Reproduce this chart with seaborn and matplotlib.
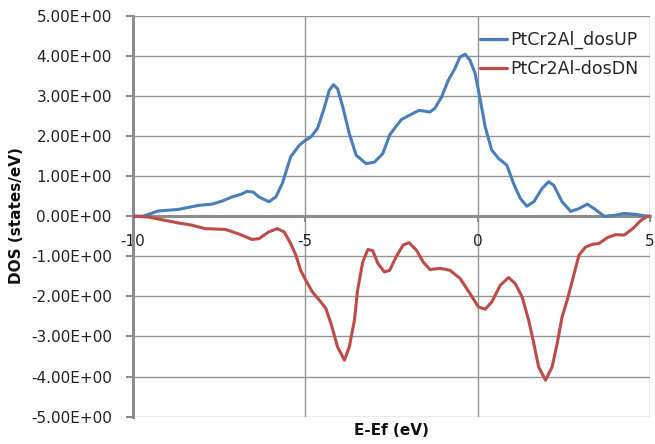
import matplotlib
matplotlib.use("Agg")
import matplotlib.pyplot as plt
from matplotlib.ticker import FuncFormatter, MultipleLocator
import numpy as np
import pandas as pd
import seaborn as sns

# Energy relative to the Fermi level (eV) and spin-resolved DOS (states/eV)
energy_up = [-10.0, -9.7, -9.26, -8.67, -8.09, -7.7, -7.4, -7.12, -6.85, -6.68, -6.5,
             -6.34, -6.05, -5.85, -5.66, -5.42, -5.17, -5.03, -4.83, -4.64, -4.45,
             -4.30, -4.18, -4.06, -3.91, -3.72, -3.52, -3.23, -2.99, -2.75, -2.55,
             -2.40, -2.21, -1.97, -1.70, -1.38, -1.24, -1.04, -0.85, -0.66, -0.51,
             -0.36, -0.22, -0.07, 0.07, 0.22, 0.41, 0.61, 0.85, 1.04, 1.24, 1.43,
             1.63, 1.87, 2.06, 2.21, 2.45, 2.70, 2.94, 3.18, 3.38, 3.67, 3.96,
             4.25, 4.54, 4.93, 5.0]
dos_up = [0.0, 0.0, 0.13, 0.17, 0.27, 0.30, 0.38, 0.48, 0.55, 0.62, 0.60,
          0.48, 0.36, 0.48, 0.82, 1.48, 1.77, 1.87, 1.98, 2.19, 2.69,
          3.14, 3.28, 3.18, 2.73, 2.06, 1.52, 1.31, 1.35, 1.56, 2.02,
          2.20, 2.41, 2.52, 2.64, 2.60, 2.69, 2.98, 3.39, 3.68, 3.97,
          4.04, 3.89, 3.56, 2.94, 2.23, 1.65, 1.44, 1.27, 0.82, 0.44, 0.25,
          0.36, 0.69, 0.86, 0.77, 0.36, 0.12, 0.19, 0.30, 0.19, 0.0, 0.02,
          0.07, 0.05, 0.0, 0.0]

energy_dn = [-10.0, -9.55, -9.2, -8.67, -8.3, -7.9, -7.31, -6.9, -6.54, -6.34,
             -6.05, -5.81, -5.61, -5.42, -5.27, -5.13, -4.98, -4.79, -4.59, -4.40,
             -4.25, -4.06, -3.86, -3.72, -3.57, -3.48, -3.33, -3.18, -3.04, -2.89,
             -2.70, -2.55, -2.36, -2.16, -1.99, -1.77, -1.58, -1.38, -1.09, -0.80,
             -0.51, -0.22, 0.02, 0.22, 0.41, 0.66, 0.90, 1.09, 1.29, 1.48, 1.63,
             1.77, 1.97, 2.16, 2.31, 2.45, 2.60, 2.75, 2.94, 3.13, 3.33, 3.52,
             3.77, 4.01, 4.25, 4.50, 4.74, 4.93, 5.0]
dos_dn = [0.0, -0.02, -0.08, -0.17, -0.22, -0.31, -0.33, -0.45, -0.58, -0.56,
          -0.39, -0.31, -0.39, -0.68, -0.97, -1.35, -1.60, -1.89, -2.09, -2.30,
          -2.68, -3.26, -3.59, -3.26, -2.59, -1.85, -1.14, -0.83, -0.86, -1.18,
          -1.39, -1.35, -1.01, -0.72, -0.66, -0.85, -1.14, -1.33, -1.30, -1.35,
          -1.55, -1.93, -2.26, -2.32, -2.14, -1.72, -1.53, -1.68, -2.01, -2.59, -3.17,
          -3.76, -4.09, -3.76, -3.17, -2.51, -2.09, -1.60, -0.97, -0.77, -0.70, -0.68,
          -0.53, -0.46, -0.47, -0.31, -0.10, 0.0, 0.0]

series_names = ["PtCr2Al_dosUP", "PtCr2Al-dosDN"]
series_colors = ["#4A7EBB", "#BE4B48"]
x_ticks = [-10, -5, 0, 5]

df = pd.concat([
    pd.DataFrame({"E": energy_up, "DOS": dos_up, "series": series_names[0]}),
    pd.DataFrame({"E": energy_dn, "DOS": dos_dn, "series": series_names[1]}),
], ignore_index=True)

sns.set_style("white")
plt.rcParams["font.family"] = ["DejaVu Sans"]

fig = plt.figure(figsize=(6.55, 4.44), dpi=100)
ax = fig.add_axes([0.2026, 0.0615, 0.9924 - 0.2026, 0.9646 - 0.0615])

sns.lineplot(data=df, x="E", y="DOS", hue="series", palette=series_colors,
             hue_order=series_names, sort=False, linewidth=2.2, ax=ax,
             legend=False, zorder=3)
for ln in ax.lines:
    ln.set_solid_joinstyle("round")
    ln.set_solid_capstyle("round")

ax.set_xlim(-10, 5)
ax.set_ylim(-5, 5)
ax.set_xticks(x_ticks)
ax.yaxis.set_major_locator(MultipleLocator(1))
ax.yaxis.set_major_formatter(FuncFormatter(lambda v, p: f"{v:.2E}"))
ax.xaxis.set_major_formatter(FuncFormatter(lambda v, p: f"{v:g}"))

grid_c = "#8C8C8C"
ax.grid(True, color="#949494", linewidth=1.0)
ax.set_axisbelow(True)

for s in ["top", "right"]:
    ax.spines[s].set_visible(False)
ax.spines["left"].set_color(grid_c)
ax.spines["left"].set_linewidth(2.2)
ax.spines["bottom"].set_position(("data", 0))
ax.spines["bottom"].set_color(grid_c)
ax.spines["bottom"].set_linewidth(2.2)
ax.spines["bottom"].set_zorder(2)

ax.tick_params(axis="y", direction="out", length=5, width=1.5, color=grid_c,
               pad=10, labelsize=11, labelcolor="#222222", left=True)
ax.tick_params(axis="x", direction="out", length=4, width=1.5, color=grid_c,
               pad=9, labelsize=11, labelcolor="#222222", bottom=True)

ax.set_xlabel("")
ax.set_ylabel("")
fig.text(0.597, 1 - 430 / 444, "E-Ef (eV)", ha="center", va="center",
         fontsize=11, fontweight="bold", color="#111111")
fig.text(17 / 655, 1 - 216 / 444, "DOS (states/eV)", ha="center", va="center",
         rotation=90, fontsize=11, fontweight="bold", color="#111111")

handles = [plt.Line2D([], [], color=c, linewidth=2.3) for c in series_colors]
ax.legend(handles, series_names, loc="upper left", bbox_to_anchor=(0.672, 0.962),
          frameon=False, fontsize=12.5, handlelength=1.55, handletextpad=0.2,
          labelspacing=0.62, borderpad=0, borderaxespad=0)

fig.savefig("out.png", dpi=100)
